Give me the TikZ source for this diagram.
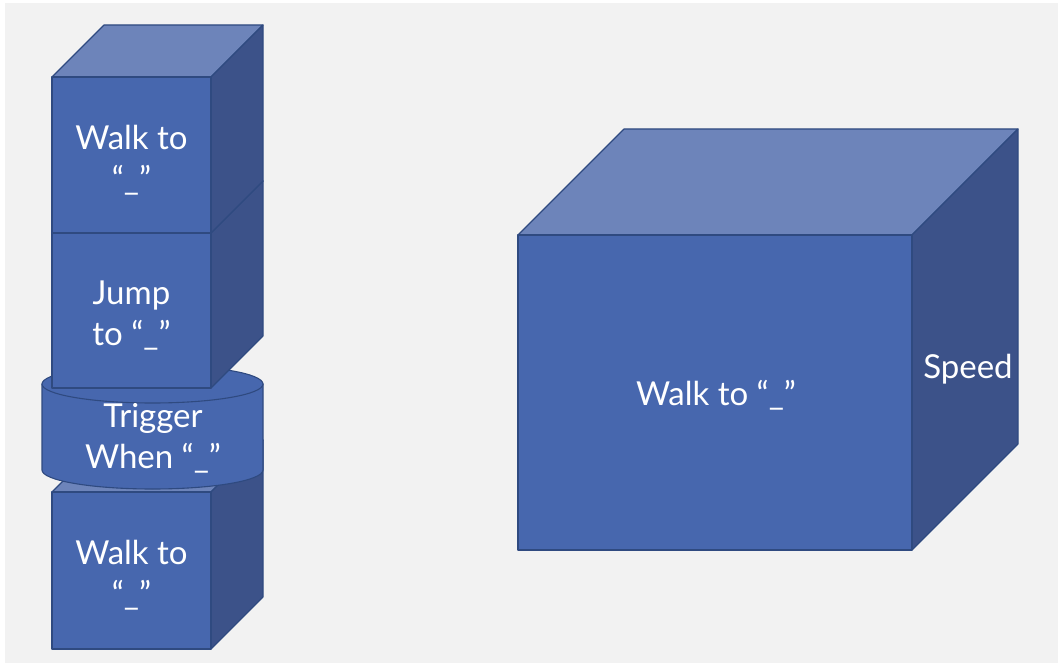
\documentclass[tikz,border=0pt]{standalone}
\usepackage{fontspec}
\setmainfont{Lato}
\definecolor{boxfront}{HTML}{4767AE}
\definecolor{boxtop}{HTML}{6D84BA}
\definecolor{boxside}{HTML}{3C5289}
\definecolor{boxline}{HTML}{2F4A80}
\definecolor{slidebg}{HTML}{F2F2F2}
% cube: front top-left x, y, width, height, depth
\newcommand{\cubeblock}[5]{%
  \filldraw[topface] (#1,#2) -- (#1+#5,#2-#5) -- (#1+#3+#5,#2-#5) -- (#1+#3,#2) -- cycle;
  \filldraw[sideface] (#1+#3,#2) -- (#1+#3+#5,#2-#5) -- (#1+#3+#5,#2+#4-#5) -- (#1+#3,#2+#4) -- cycle;
  \filldraw[frontface] (#1,#2) rectangle (#1+#3,#2+#4);
}

\begin{document}
\begin{tikzpicture}[
  x=1pt, y=-1pt,
  frontface/.style={fill=boxfront, draw=boxline, line width=1.1pt, line join=round},
  topface/.style={fill=boxtop, draw=boxline, line width=1.1pt, line join=round},
  sideface/.style={fill=boxside, draw=boxline, line width=1.1pt, line join=round},
  lbl/.style={text=white, align=center, inner sep=0pt, font=\fontsize{33}{41}\selectfont}
]
\useasboundingbox (0,0) rectangle (1060,666);
\fill[white] (0,0) rectangle (1060,666);
\fill[slidebg] (5,3) rectangle (1058,663);

% left stack, bottom up
\cubeblock{52}{492}{159}{157}{52}
\filldraw[frontface] (42,384) -- (42,470)
  arc[start angle=180, end angle=0, x radius=110.5, y radius=19] -- (263,384) -- cycle;
\filldraw[frontface] (152.5,384) ellipse[x radius=110.5, y radius=19];
\cubeblock{52}{233}{159}{155}{52}
\cubeblock{52}{77}{159}{156}{52}

% big block
\cubeblock{518}{235}{394}{315}{106}

\node[lbl] (walkA) at (131.5,160) {Walk to\\“\_”};
\node[lbl] (jump) at (131.5,316) {Jump\\to “\_”};
\node[lbl] (trigger) at (153,438) {Trigger\\When “\_”};
\node[lbl] (walkB) at (131.5,575) {Walk to\\“\_”};
\node[lbl] (walkbig) at (716,395) {Walk to “\_”};
\node[lbl] (speed) at (968,369) {Speed};
\end{tikzpicture}
\end{document}
